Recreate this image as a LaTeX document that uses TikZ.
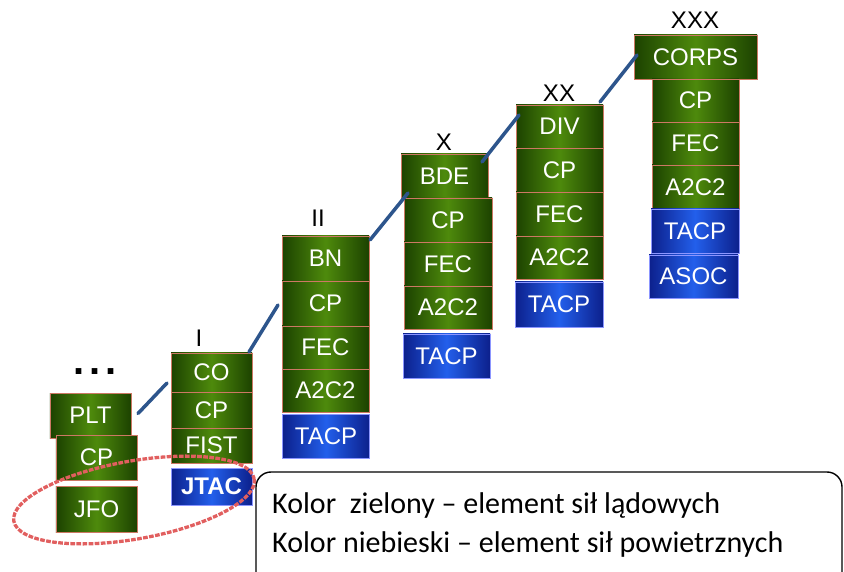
\documentclass[tikz,border=0pt]{standalone}
\usepackage{fontspec}
\setmainfont{Liberation Sans}
\newfontfamily\legendfont{Carlito}
\usetikzlibrary{calc}
\definecolor{gdark}{RGB}{28,66,0}
\definecolor{glight}{RGB}{78,138,12}
\definecolor{gborder}{RGB}{205,120,100}
\definecolor{bdark}{RGB}{12,32,140}
\definecolor{blight}{RGB}{35,95,235}
\definecolor{bborder}{RGB}{140,150,255}
\definecolor{linkblue}{RGB}{45,85,140}
\definecolor{dashred}{RGB}{225,95,95}

\begin{document}
\begin{tikzpicture}[x=0.03cm,y=-0.03cm,font=\fontsize{20.5}{24}\selectfont]
\tikzstyle{g}=[draw=gborder,line width=0.8pt,left color=gdark,right color=gdark,middle color=glight,text=white,inner sep=0pt,outer sep=0pt,minimum width=2.61cm,minimum height=1.32cm]
\tikzstyle{bl}=[g,draw=bborder,left color=bdark,right color=bdark,middle color=blight]
\tikzstyle{lbl}=[inner sep=0pt,text=black]
\tikzstyle{link}=[draw=linkblue,line width=3pt,line cap=round]
\useasboundingbox (0,0) rectangle (844,572);
\clip (0,0) rectangle (844,572);
% PLT
\node[g,minimum width=2.43cm,minimum height=1.35cm] (plt) at (90.5,415.5) {PLT};
\node[g,minimum width=2.43cm,minimum height=1.35cm] (pltcp) at (96.5,457.5) {CP};
\node[g,minimum width=2.43cm,minimum height=1.38cm] (jfo) at (96.5,509) {JFO};
\node[lbl,font=\fontsize{34}{34}\selectfont\bfseries] (dots) at (95,372) {.\kern4pt.\kern4pt.};
% CO
\node[g,minimum width=2.43cm,minimum height=1.17cm] (co) at (211.5,372.5) {CO};
\node[g,minimum width=2.43cm,minimum height=1.08cm] (cocp) at (211.5,410) {CP};
\node[g,minimum width=2.43cm,minimum height=1.05cm] (fist) at (211.5,445.5) {FIST};
\node[bl,minimum width=2.43cm,minimum height=1.11cm,font=\fontsize{20.5}{24}\selectfont\bfseries] (jtac) at (211.5,486.5) {JTAC};
\node[lbl] (coname) at (199,338) {I};
% BN
\node[g,minimum height=1.35cm] (bn) at (325.5,258.5) {BN};
\node[g,minimum height=1.35cm] (bncp) at (325.5,303.5) {CP};
\node[g,minimum height=1.29cm] (bnfec) at (325.5,347.5) {FEC};
\node[g,minimum height=1.29cm] (bna2c2) at (325.5,390.5) {A2C2};
\node[bl] (bntacp) at (326,436) {TACP};
\node[lbl] (bnname) at (318,218) {II};
% BDE
\node[g] (bde) at (444.5,176) {BDE};
\node[g,minimum width=2.64cm] (bdecp) at (448,220) {CP};
\node[g,minimum width=2.64cm] (bdefec) at (448,264) {FEC};
\node[g,minimum width=2.64cm,minimum height=1.29cm] (bdea2c2) at (448,307.5) {A2C2};
\node[bl] (bdetacp) at (446.5,356) {TACP};
\node[lbl] (bdename) at (444,142) {X};
% DIV
\node[g,minimum height=1.29cm] (div) at (559.5,126.5) {DIV};
\node[g] (divcp) at (559.5,170) {CP};
\node[g] (divfec) at (559.5,214) {FEC};
\node[g,minimum height=1.29cm] (diva2c2) at (559.5,257.5) {A2C2};
\node[bl,minimum width=2.64cm,minimum height=1.35cm] (divtacp) at (559,304.5) {TACP};
\node[lbl] (divname) at (559,93) {XX};
% CORPS
\node[g,minimum width=3.69cm] (corps) at (695.5,57) {CORPS};
\node[g,minimum height=1.29cm] (corpscp) at (695.5,100.5) {CP};
\node[g,minimum height=1.29cm] (corpsfec) at (695.5,143.5) {FEC};
\node[g] (corpsa2c2) at (695.5,187) {A2C2};
\node[bl,minimum width=2.64cm] (corpstacp) at (695,231) {TACP};
\node[bl,minimum width=2.67cm,minimum height=1.29cm] (asoc) at (693.5,276.5) {ASOC};
\node[lbl] (corpsname) at (695,20) {XXX};
% links between levels
\draw[link] ($(plt.east)+(7,-2)$) -- ($(co.west)+(-4,10.5)$);
\draw[link] ($(co.north east)+(-3,-1)$) -- ($(bncp.west)+(-4,1.5)$);
\draw[link] ($(bn.north east)+(1,4)$) -- ($(bde.south west)+(7,-5)$);
\draw[link] ($(bde.north east)+(-6,8)$) -- ($(div.west)+(3,-11.5)$);
\draw[link] ($(div.north east)+(-3,-3)$) -- ($(corps.west)+(3,-2)$);
% JFO / JTAC ring
\draw[dashred,line width=2.8pt,dash pattern=on 4pt off 1.2pt,rotate around={10:(134,500)}] (134,500) ellipse [x radius=122,y radius=39];
% legend
\draw[line width=1.2pt,rounded corners=0.45cm,fill=white] (256,472) rectangle (842,620);
\node[lbl,anchor=west,font=\legendfont\fontsize{25.6}{30}\selectfont] (leg1) at (272,506) {Kolor\ \ zielony – element sił lądowych};
\node[lbl,anchor=west,font=\legendfont\fontsize{25.6}{30}\selectfont] (leg2) at (272,545) {Kolor niebieski – element sił powietrznych};
\end{tikzpicture}
\end{document}
